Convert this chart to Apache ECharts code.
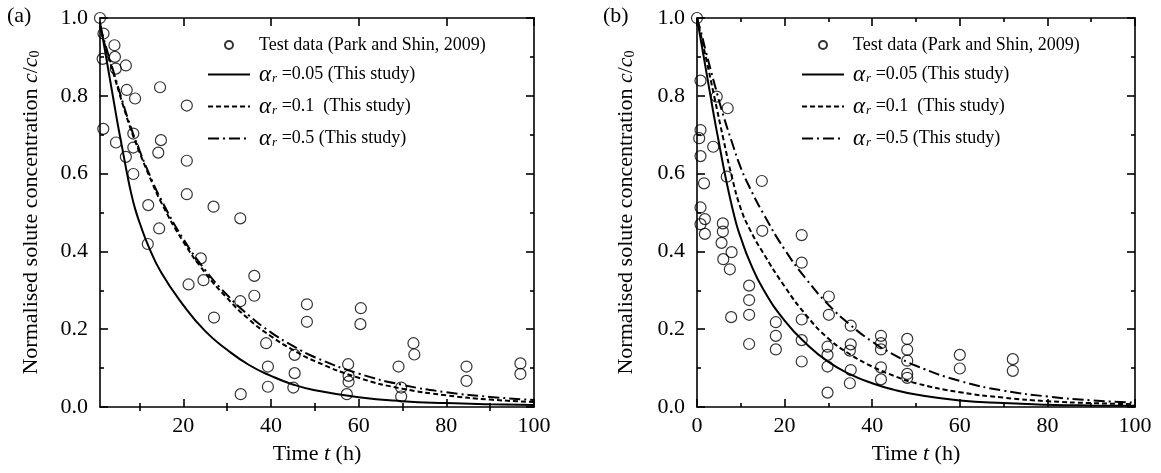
<!DOCTYPE html>
<html>
<head>
<meta charset="utf-8">
<script src="https://cdn.jsdelivr.net/npm/echarts@6/dist/echarts.min.js"></script>
<style>
html,body{margin:0;padding:0;background:#fff;}
#chart{width:1161px;height:473px;}
</style>
</head>
<body>
<div id="chart"></div>
<script>
// ---------- data ----------
const panelLabels = ['(a)', '(b)'];
const testName = 'Test data (Park and Shin, 2009)';
const curveNames = ['αr =0.05 (This study)', 'αr =0.1  (This study)', 'αr =0.5 (This study)'];

const xMajorTicks = [20, 40, 60, 80, 100];
const xMinorTicksA = [10, 30, 50, 70, 90];

// Panel (a) test data
const testTA = [1, 1.8, 4.3, 1.6, 4.4, 4.6, 6.9, 7.1, 9, 14.7, 20.8, 1.75, 4.65, 8.6, 8.6, 14.9, 14.3, 6.9, 8.6, 20.8, 20.8, 12, 26.9, 33, 14.5, 11.9, 24, 21.2, 24.6, 36.2, 36.2, 33, 48.2, 48.2, 27, 38.9, 39.3, 39.3, 45.4, 45.4, 45.1, 33.1, 60.5, 60.4, 72.5, 72.7, 57.6, 57.7, 57.7, 57.3, 69.1, 69.7, 69.7, 84.6, 84.6, 96.9, 96.9];
const testCA = [1.0, 0.96, 0.93, 0.895, 0.90, 0.87, 0.878, 0.815, 0.793, 0.822, 0.775, 0.715, 0.68, 0.703, 0.667, 0.686, 0.654, 0.643, 0.599, 0.633, 0.547, 0.519, 0.515, 0.485, 0.459, 0.419, 0.382, 0.315, 0.326, 0.337, 0.286, 0.272, 0.264, 0.219, 0.23, 0.164, 0.104, 0.052, 0.134, 0.087, 0.05, 0.033, 0.254, 0.213, 0.164, 0.135, 0.11, 0.08, 0.065, 0.033, 0.104, 0.05, 0.027, 0.104, 0.067, 0.112, 0.085];

// Panel (a) model curves
const curveTA005 = [1, 2, 3, 4, 5, 6, 7, 8, 9, 10, 12, 15, 20, 25, 30, 35, 40, 45, 50, 60, 70, 80, 90, 100];
const a005A = [0.99, 0.925, 0.86, 0.795, 0.73, 0.67, 0.61, 0.555, 0.51, 0.475, 0.415, 0.345, 0.262, 0.195, 0.147, 0.108, 0.08, 0.058, 0.043, 0.025, 0.015, 0.01, 0.007, 0.005];
const curveTA = [1, 2, 4, 6, 8, 10, 12, 15, 20, 25, 30, 35, 40, 45, 50, 60, 70, 80, 90, 100];
const a01A = [0.98, 0.935, 0.86, 0.785, 0.715, 0.655, 0.60, 0.525, 0.425, 0.345, 0.28, 0.225, 0.182, 0.147, 0.118, 0.075, 0.047, 0.03, 0.019, 0.013];
const a05A = [0.98, 0.94, 0.865, 0.79, 0.72, 0.66, 0.605, 0.532, 0.432, 0.352, 0.288, 0.235, 0.192, 0.157, 0.128, 0.086, 0.057, 0.038, 0.026, 0.018];

// Panel (b) test data
const testTB = [0, 0.8, 4.5, 7, 0.8, 0.5, 3.7, 0.8, 6.8, 14.8, 1.6, 0.8, 1.8, 0.8, 1.8, 5.9, 5.9, 5.6, 7.9, 6, 7.5, 14.9, 23.9, 23.9, 11.9, 11.9, 11.9, 7.8, 11.9, 18, 18, 18, 23.9, 23.9, 23.9, 30.1, 30.1, 29.8, 29.8, 29.8, 29.8, 35.1, 35.1, 34.9, 35.1, 34.9, 42, 42, 42, 42, 42, 48, 48, 48, 48, 48, 60, 60, 72.1, 72.1];
const testCB = [1.0, 0.839, 0.798, 0.768, 0.712, 0.691, 0.669, 0.645, 0.592, 0.581, 0.575, 0.513, 0.483, 0.47, 0.445, 0.472, 0.451, 0.422, 0.398, 0.38, 0.354, 0.453, 0.442, 0.371, 0.312, 0.275, 0.237, 0.231, 0.162, 0.218, 0.183, 0.148, 0.225, 0.172, 0.117, 0.284, 0.237, 0.155, 0.134, 0.104, 0.037, 0.209, 0.161, 0.145, 0.095, 0.061, 0.183, 0.164, 0.148, 0.102, 0.071, 0.175, 0.147, 0.119, 0.085, 0.075, 0.134, 0.099, 0.123, 0.093];

// Panel (b) model curves
const curveTB005 = [0, 1, 2, 3, 4, 5, 6, 7, 8, 9, 10, 12, 15, 20, 25, 30, 35, 40, 45, 50, 60, 70, 80, 90, 100];
const a005B = [1, 0.935, 0.87, 0.805, 0.74, 0.68, 0.62, 0.565, 0.515, 0.47, 0.435, 0.375, 0.305, 0.222, 0.162, 0.116, 0.084, 0.061, 0.044, 0.032, 0.017, 0.01, 0.006, 0.004, 0.003];
const curveTB = [0, 1, 2, 4, 6, 8, 10, 12, 15, 20, 25, 30, 35, 40, 45, 50, 60, 70, 80, 90, 100];
const a01B = [1, 0.95, 0.9, 0.795, 0.69, 0.59, 0.51, 0.458, 0.398, 0.31, 0.235, 0.176, 0.135, 0.104, 0.08, 0.061, 0.038, 0.024, 0.015, 0.01, 0.007];
const a05B = [1, 0.96, 0.915, 0.83, 0.75, 0.68, 0.615, 0.565, 0.5, 0.405, 0.328, 0.263, 0.211, 0.168, 0.134, 0.106, 0.067, 0.042, 0.027, 0.017, 0.011];

// ---------- chart ----------
const FONT = '"Liberation Serif", "Times New Roman", serif';
const zip = (xs, ys) => xs.map((x, i) => [x, ys[i]]);
const lineW = 1.6;

const chart = echarts.init(document.getElementById('chart'), null, {renderer: 'canvas'});

const axisLine = {show: true, onZero: false, lineStyle: {color: '#000', width: lineW}};
const nameRich = {
  n: {fontFamily: FONT, fontSize: 22, color: '#000'},
  i: {fontFamily: FONT, fontSize: 22, fontStyle: 'italic', color: '#000'},
  s: {fontFamily: FONT, fontSize: 14, color: '#000', verticalAlign: 'bottom', padding: [8, 0, 0, 0]}
};
const yName = '{n|Normalised solute concentration }{i|c}{n|/}{i|c}{s|0}';
const xName = '{n|Time }{i|t}{n| (h)}';

function makeX(grid, pos, min, showLabels, showName, visible) {
  const ax = {
    type: 'value', gridIndex: grid, position: pos, min: min, max: 100, show: visible !== false,
    axisLine: axisLine,
    splitLine: {show: false},
    axisTick: {show: true, inside: true, length: 8, lineStyle: {color: '#000', width: lineW}},
    axisLabel: {show: showLabels, color: '#000', fontFamily: FONT, fontSize: 22, margin: 8},
  };
  if (min === 0) {
    ax.interval = 20;
    ax.minorTick = {show: true, splitNumber: 2, length: 4, lineStyle: {color: '#000', width: lineW}};
  } else {
    ax.axisTick.customValues = xMajorTicks;
    ax.axisLabel.customValues = xMajorTicks;
  }
  if (showName) {
    ax.name = xName;
    ax.nameLocation = 'middle';
    ax.nameGap = 36;
    ax.nameTextStyle = {rich: nameRich};
  }
  return ax;
}
function makeXMinor(grid, pos) {
  return {
    type: 'value', gridIndex: grid, position: pos, min: 1, max: 100,
    axisLine: {show: false}, splitLine: {show: false}, axisLabel: {show: false},
    axisTick: {show: true, inside: true, length: 4, customValues: xMinorTicksA, lineStyle: {color: '#000', width: lineW}}
  };
}
function makeY(grid, pos, showLabels, nameGap) {
  const ax = {
    type: 'value', gridIndex: grid, position: pos, min: 0, max: 1, interval: 0.2,
    axisLine: axisLine,
    splitLine: {show: false},
    axisTick: {show: true, inside: true, length: 8, lineStyle: {color: '#000', width: lineW}},
    minorTick: {show: true, splitNumber: 2, length: 4, lineStyle: {color: '#000', width: lineW}},
    axisLabel: {show: showLabels, color: '#000', fontFamily: FONT, fontSize: 22, margin: 12,
      formatter: v => v.toFixed(1)}
  };
  if (showLabels) {
    ax.name = yName;
    ax.nameLocation = 'middle';
    ax.nameGap = nameGap;
    ax.nameTextStyle = {rich: nameRich};
  }
  return ax;
}

const legendRich = {
  g: {fontFamily: FONT, fontSize: 23, fontStyle: 'italic', color: '#000', lineHeight: 22},
  r: {fontFamily: FONT, fontSize: 13, fontStyle: 'italic', color: '#000', verticalAlign: 'bottom', lineHeight: 16, padding: [6, 0, 0, 1]},
  t: {fontFamily: FONT, fontSize: 18, color: '#000', lineHeight: 22}
};
function legendFmt(name) {
  if (name.indexOf('αr') === 0) {
    return '{g|α}{r|r}{t|' + name.slice(2) + '}';
  }
  return '{t|' + name + '}';
}
function makeLegend(left) {
  return {
    orient: 'vertical', left: left, top: 36, padding: 0, itemWidth: 42, itemHeight: 8, itemGap: 9,
    data: [testName].concat(curveNames),
    formatter: legendFmt,
    selectedMode: false,
    textStyle: {rich: legendRich, padding: [0, 0, 0, 4]}
  };
}

const lineTypes = ['solid', [5, 3], [11, 4, 2, 4]];
function curveSeries(grid, ts, vals, k) {
  return {
    name: curveNames[k], type: 'line', xAxisIndex: grid * 4, yAxisIndex: grid * 2,
    data: zip(ts, vals), symbol: 'none', smooth: 0.5,
    lineStyle: {color: '#000', width: 2, type: lineTypes[k]},
    itemStyle: {color: 'rgba(0,0,0,0)', borderColor: 'rgba(0,0,0,0)'}, z: 2, animation: false
  };
}
function testSeries(grid, ts, cs) {
  return {
    name: testName, type: 'scatter', xAxisIndex: grid * 4, yAxisIndex: grid * 2,
    data: zip(ts, cs), symbol: 'circle', symbolSize: 11,
    itemStyle: {color: 'rgba(255,255,255,0)', borderColor: '#000', borderWidth: 1.2},
    z: 3, animation: false
  };
}

const option = {
  backgroundColor: '#fff',
  animation: false,
  title: [
    {text: panelLabels[0], left: 2, top: 0, textStyle: {fontFamily: FONT, fontSize: 22, fontWeight: 'normal', color: '#000'}},
    {text: panelLabels[1], left: 598, top: 0, textStyle: {fontFamily: FONT, fontSize: 22, fontWeight: 'normal', color: '#000'}}
  ],
  grid: [
    {left: 100, right: 627, top: 18, bottom: 66},
    {left: 697, right: 26, top: 18, bottom: 66}
  ],
  legend: [makeLegend(207), makeLegend(801)],
  xAxis: [
    makeX(0, 'bottom', 1, true, true),
    makeXMinor(0, 'bottom'),
    makeX(0, 'top', 1, false, false),
    makeXMinor(0, 'top'),
    makeX(1, 'bottom', 0, true, true),
    makeX(1, 'top', 0, false, false),
    makeX(1, 'top', 0, false, false, false),
    makeX(1, 'top', 0, false, false, false)
  ],
  yAxis: [
    makeY(0, 'left', true, 58),
    makeY(0, 'right', false, 0),
    makeY(1, 'left', true, 60),
    makeY(1, 'right', false, 0)
  ],
  series: [
    curveSeries(0, curveTA005, a005A, 0),
    curveSeries(0, curveTA, a01A, 1),
    curveSeries(0, curveTA, a05A, 2),
    testSeries(0, testTA, testCA),
    curveSeries(1, curveTB005, a005B, 0),
    curveSeries(1, curveTB, a01B, 1),
    curveSeries(1, curveTB, a05B, 2),
    testSeries(1, testTB, testCB)
  ]
};
chart.setOption(option);
</script>
</body>
</html>
